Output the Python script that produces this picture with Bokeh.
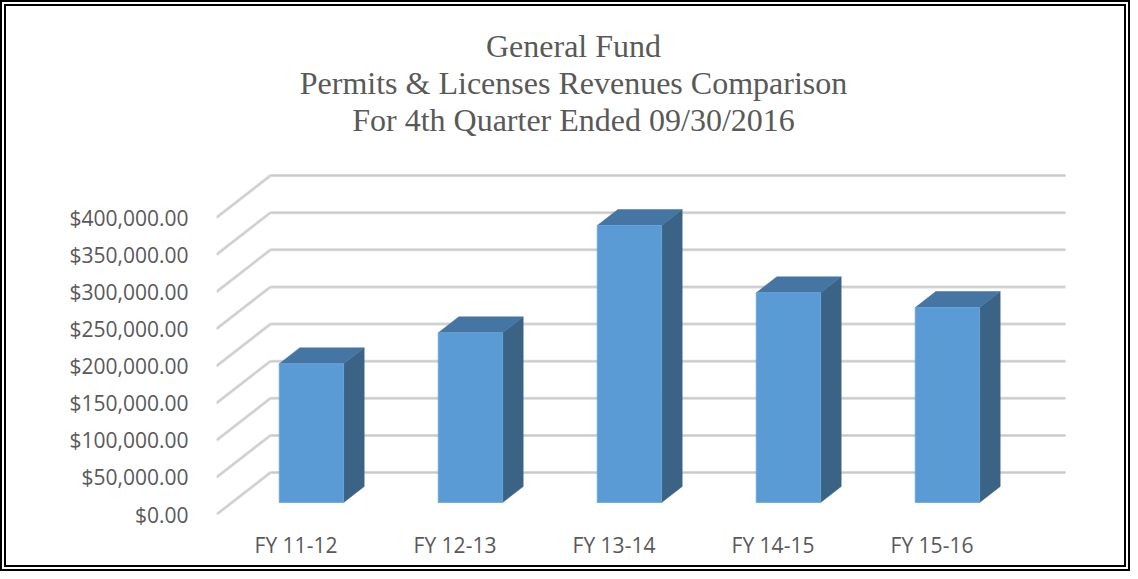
from bokeh.plotting import figure
from bokeh.models import Range1d, FixedTicker, NumeralTickFormatter, ColumnDataSource
from bokeh.core.properties import value
from bokeh.embed import file_html
from bokeh.resources import INLINE

# ---------------- data ----------------
categories = ["FY 11-12", "FY 12-13", "FY 13-14", "FY 14-15", "FY 15-16"]
revenues = [186800, 228500, 373000, 282400, 262600]
y_ticks = [0, 50000, 100000, 150000, 200000, 250000, 300000, 350000, 400000]
title_lines = ["General Fund",
               "Permits & Licenses Revenues Comparison",
               "For 4th Quarter Ended 09/30/2016"]

# ---------------- layout / projection constants (pixels) ----------------
BORDER = 6
W, H = 1130, 571           # element size (border-box)
OX, OY = BORDER, BORDER    # canvas origin inside the element
FRAME_LEFT = 216 - OX      # canvas px where front plane x=0 sits
FRAME_BOTTOM = 514 - OY    # canvas px where front plane $0 sits
PX_PER_CAT = 159.0
PX_PER_DOLLAR = 297.0 / 400000.0
DEPTH_DX = 54.0            # oblique depth of the floor, px
DEPTH_DY = 42.0
BAR_F0, BAR_F1 = 12.0 / 42.0, 28.0 / 42.0   # bar front/back depth fractions
BAR_W = 0.405

def ddx(f):
    return DEPTH_DX * f / PX_PER_CAT

def ddy(f):
    return DEPTH_DY * f / PX_PER_DOLLAR

x_end = (W - FRAME_LEFT) / PX_PER_CAT
y_end = FRAME_BOTTOM / PX_PER_DOLLAR
n = len(categories)

p = figure(width=W, height=H,
           x_range=Range1d(0, x_end), y_range=Range1d(0, y_end),
           output_backend="svg", toolbar_location=None,
           min_border_left=FRAME_LEFT, min_border_right=0,
           min_border_top=0, min_border_bottom=H - FRAME_BOTTOM)
p.styles = {"border": "%dpx double #000000" % BORDER}
p.outline_line_color = None
p.grid.visible = False
p.background_fill_color = "white"
p.border_fill_color = "white"

# ---------------- walls ----------------
grid_color = "#d9d9d9"
back = ColumnDataSource(dict(
    x0=[ddx(1)] * len(y_ticks), x1=[n + ddx(1)] * len(y_ticks),
    y=[t + ddy(1) for t in y_ticks]))
p.segment(x0="x0", y0="y", x1="x1", y1="y", source=back,
          line_color=grid_color, line_width=3)
p.segment(x0="x0", y0="y", x1="x1", y1="y", source=back,
          line_color="#c8c8c8", line_width=1)
side = ColumnDataSource(dict(
    x0=[0] * len(y_ticks), y0=y_ticks,
    x1=[ddx(1)] * len(y_ticks), y1=[t + ddy(1) for t in y_ticks]))
p.segment(x0="x0", y0="y0", x1="x1", y1="y1", source=side,
          line_color=grid_color, line_width=3)
p.segment(x0="x0", y0="y0", x1="x1", y1="y1", source=side,
          line_color="#c8c8c8", line_width=1)

# ---------------- bars ----------------
sx0, sy0 = ddx(BAR_F0), ddy(BAR_F0)
sx1, sy1 = ddx(BAR_F1), ddy(BAR_F1)
front_xs, front_ys, top_xs, top_ys, side_xs, side_ys = [], [], [], [], [], []
for i, v in enumerate(revenues):
    xl = i + 0.5 - BAR_W / 2
    xr = i + 0.5 + BAR_W / 2
    front_xs.append([xl + sx0, xr + sx0, xr + sx0, xl + sx0])
    front_ys.append([sy0, sy0, v + sy0, v + sy0])
    top_xs.append([xl + sx0, xr + sx0, xr + sx1, xl + sx1])
    top_ys.append([v + sy0, v + sy0, v + sy1, v + sy1])
    side_xs.append([xr + sx0, xr + sx1, xr + sx1, xr + sx0])
    side_ys.append([sy0, sy1, v + sy1, v + sy0])

p.patches(side_xs, side_ys, fill_color="#3a6386", line_color="#3a6386", line_width=0.5)
p.patches(top_xs, top_ys, fill_color="#4575a2", line_color="#4575a2", line_width=0.5)
p.patches(front_xs, front_ys, fill_color="#5b9bd5", line_color="#6aa5db", line_width=0.8)

# ---------------- title ----------------
def img_to_x(px):
    return (px - OX - FRAME_LEFT) / PX_PER_CAT

def img_to_y(py):
    return (FRAME_BOTTOM - (py - OY)) / PX_PER_DOLLAR

title_baselines = [45, 82, 119]
p.text(x=[img_to_x(573)] * 3, y=[img_to_y(b) for b in title_baselines],
       text=title_lines, text_font=value("Liberation Serif"),
       text_font_size="32px", text_color="#595959",
       text_align="center", text_baseline="alphabetic")

# ---------------- axes ----------------
p.yaxis.ticker = FixedTicker(ticks=y_ticks)
p.yaxis.formatter = NumeralTickFormatter(format="$0,0.00")
p.yaxis.major_label_standoff = 28
p.xaxis.ticker = FixedTicker(ticks=[i + 0.5 for i in range(n)])
p.xaxis.major_label_overrides = {i + 0.5: c for i, c in enumerate(categories)}
p.xaxis.major_label_standoff = 16
for ax in (p.xaxis, p.yaxis):
    ax.axis_line_color = None
    ax.major_tick_line_color = None
    ax.minor_tick_line_color = None
    ax.major_tick_out = 0
    ax.major_tick_in = 0
    ax.major_label_text_font = "Open Sans"
    ax.major_label_text_font_size = "21px"
    ax.major_label_text_color = "#595959"

open("out.html", "w").write(file_html(p, INLINE))
